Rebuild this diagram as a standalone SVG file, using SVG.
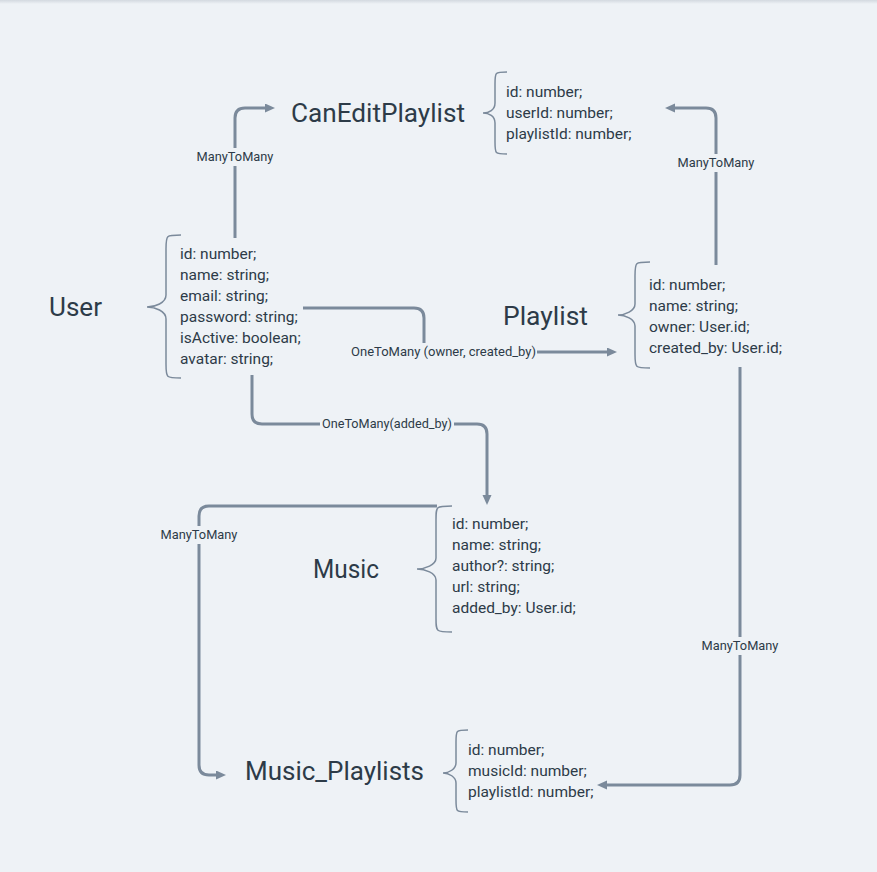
<svg xmlns="http://www.w3.org/2000/svg" width="877" height="872" viewBox="0 0 877 872">
<defs>
<linearGradient id="topband" x1="0" y1="0" x2="0" y2="1"><stop offset="0" stop-color="#d3d9e0"/><stop offset="1" stop-color="#eef2f6"/></linearGradient>
<marker id="arrow" markerUnits="userSpaceOnUse" markerWidth="11" markerHeight="10" refX="5" refY="4.5" orient="auto"><path d="M0,0 L10,4.5 L0,9 z" fill="#7b8a9b"/></marker>
</defs>
<style>
.title{font-family:Roboto,"Noto Sans",sans-serif;font-size:26px;fill:#2d3b48}
.field{font-family:Roboto,"Noto Sans",sans-serif;font-size:15.5px;fill:#2d3b48}
.lbl{font-family:Roboto,"Noto Sans",sans-serif;font-size:12.8px;fill:#2d3b48}
.brace{fill:none;stroke:#7b8a9b;stroke-width:1.5}
.edge{fill:none;stroke:#7b8a9b;stroke-width:3}
.lblbg{fill:#eef2f6}
</style>
<rect x="0" y="0" width="877" height="872" fill="#eef2f6"/>
<rect x="0" y="0" width="877" height="4" fill="url(#topband)"/>

<g id="connectors">
<path class="edge" d="M235 238 V118 Q235 108 245 108 H270" marker-end="url(#arrow)"/>
<path class="edge" d="M716 265 V118 Q716 108 706 108 H670" marker-end="url(#arrow)"/>
<path class="edge" d="M303 308 H414 Q424 308 424 318 V343"/>
<path class="edge" d="M537 352 H612" marker-end="url(#arrow)"/>
<path class="edge" d="M252 375 V414 Q252 424 262 424 H477 Q487 424 487 434 V500" marker-end="url(#arrow)"/>
<path class="edge" d="M437 506 H209 Q199 506 199 516 V765 Q199 775 209 775 H221" marker-end="url(#arrow)"/>
<path class="edge" d="M740 367 V775 Q740 785 730 785 H602" marker-end="url(#arrow)"/>
<rect class="lblbg" x="195" y="148" width="80" height="18"/>
<text class="lbl" x="235" y="161" text-anchor="middle">ManyToMany</text>
<rect class="lblbg" x="676" y="154" width="80" height="18"/>
<text class="lbl" x="716" y="167" text-anchor="middle">ManyToMany</text>
<text class="lbl" x="351" y="356" textLength="185" lengthAdjust="spacingAndGlyphs">OneToMany (owner, created_by)</text>
<rect class="lblbg" x="320" y="415" width="134" height="18"/>
<text class="lbl" x="387" y="428" text-anchor="middle" textLength="130" lengthAdjust="spacingAndGlyphs">OneToMany(added_by)</text>
<rect class="lblbg" x="159" y="526" width="80" height="18"/>
<text class="lbl" x="199" y="539" text-anchor="middle">ManyToMany</text>
<rect class="lblbg" x="700" y="637" width="80" height="18"/>
<text class="lbl" x="740" y="650" text-anchor="middle">ManyToMany</text>
</g>

<g id="CanEditPlaylist">
<text class="title" x="291" y="122" textLength="174" lengthAdjust="spacingAndGlyphs">CanEditPlaylist</text>
<path class="brace" d="M507 72 C495 72 495 72 495 84 V103 C495 110 489 113 483 113 C489 113 495 116 495 123 V142 C495 154 495 154 507 154"/>
<text class="field" x="506" y="97">id: number;</text>
<text class="field" x="506" y="118">userId: number;</text>
<text class="field" x="506" y="139">playlistId: number;</text>
</g>

<g id="User">
<text class="title" x="49" y="316" textLength="53" lengthAdjust="spacingAndGlyphs">User</text>
<path class="brace" d="M181 235 C166 235 166 235 166 249 V295 C166 303 155 307 147 307 C155 307 166 311 166 319 V364 C166 378 166 378 181 378"/>
<text class="field" x="180" y="259">id: number;</text>
<text class="field" x="180" y="280">name: string;</text>
<text class="field" x="180" y="301">email: string;</text>
<text class="field" x="180" y="322">password: string;</text>
<text class="field" x="180" y="343">isActive: boolean;</text>
<text class="field" x="180" y="364">avatar: string;</text>
</g>

<g id="Playlist">
<text class="title" x="503" y="325" textLength="85" lengthAdjust="spacingAndGlyphs">Playlist</text>
<path class="brace" d="M650 262 C635 262 635 262 635 276 V304 C635 311 625 315 618 315 C625 315 635 319 635 326 V354 C635 368 635 368 650 368"/>
<text class="field" x="649" y="290">id: number;</text>
<text class="field" x="649" y="311">name: string;</text>
<text class="field" x="649" y="332">owner: User.id;</text>
<text class="field" x="649" y="353">created_by: User.id;</text>
</g>

<g id="Music">
<text class="title" x="313" y="578" textLength="66" lengthAdjust="spacingAndGlyphs">Music</text>
<path class="brace" d="M452 506 C436 506 436 506 436 520 V558 C436 565 425 569 417 569 C425 569 436 573 436 580 V618 C436 632 436 632 452 632"/>
<text class="field" x="452" y="529">id: number;</text>
<text class="field" x="452" y="550">name: string;</text>
<text class="field" x="452" y="571">author?: string;</text>
<text class="field" x="452" y="592">url: string;</text>
<text class="field" x="452" y="613">added_by: User.id;</text>
</g>

<g id="Music_Playlists">
<text class="title" x="245" y="780" textLength="179" lengthAdjust="spacingAndGlyphs">Music_Playlists</text>
<path class="brace" d="M468 730 C456 730 456 730 456 742 V763 C456 769 449 773 443 773 C449 773 456 777 456 783 V800 C456 812 456 812 468 812"/>
<text class="field" x="468" y="755">id: number;</text>
<text class="field" x="468" y="776">musicId: number;</text>
<text class="field" x="468" y="797">playlistId: number;</text>
</g>
</svg>
